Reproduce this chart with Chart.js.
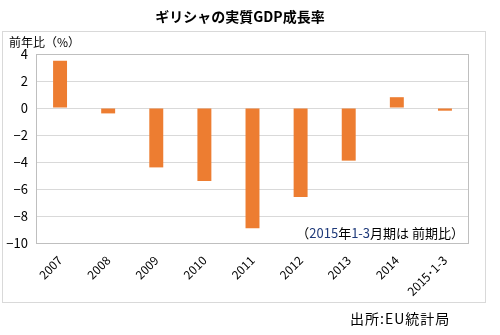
<!DOCTYPE html>
<html>
<head>
<meta charset="utf-8">
<script src="https://cdn.jsdelivr.net/npm/chart.js@4/dist/chart.umd.min.js"></script>
<style>
  html, body { margin: 0; padding: 0; background: #fff; }
  #chart { display: block; }
</style>
</head>
<body>
<canvas id="chart" width="500" height="335"></canvas>
<script>
// data
var years = ['2007', '2008', '2009', '2010', '2011', '2012', '2013', '2014', '2015･1-3'];
var growth = [3.5, -0.4, -4.4, -5.4, -8.9, -6.6, -3.9, 0.8, -0.2];
var yTicks = [4, 2, 0, -2, -4, -6, -8, -10];

var jpFont = '"Noto Sans CJK JP", "Noto Sans", sans-serif';

//draws title, frame, unit, note and source
var decorations = {
    id: 'decorations',
    beforeDraw: function (chart) {
        var ctx = chart.ctx;
        ctx.save();
        ctx.fillStyle = '#fff';
        ctx.fillRect(0, 0, chart.width, chart.height);
        ctx.strokeStyle = '#d9d9d9';
        ctx.lineWidth = 1;
        ctx.strokeRect(2.5, 31.5, 483, 271);
        ctx.restore();
    },
    afterDraw: function (chart) {
        var ctx = chart.ctx;
        var a = chart.chartArea;
        ctx.save();
        ctx.strokeStyle = '#bfbfbf';
        ctx.lineWidth = 1;
        ctx.strokeRect(Math.round(a.left) + 0.5, Math.round(a.top) + 0.5,
            Math.round(a.right - a.left) - 1, Math.round(a.bottom - a.top));

        ctx.fillStyle = '#000';
        ctx.textBaseline = 'middle';
        ctx.font = 'bold 14px ' + jpFont;
        ctx.textAlign = 'center';
        ctx.fillText('ギリシャの実質GDP成長率', 240, 17);

        ctx.font = '12px ' + jpFont;
        ctx.textAlign = 'left';
        ctx.fillText('前年比（%）', 9, 42);

        //note, digits are dark blue in the original
        var parts = [['（', '#000'], ['2015', '#1f3a7a'], ['年', '#000'], ['1-3', '#1f3a7a'], ['月期は 前期比）', '#000']];
        ctx.font = '13px ' + jpFont;
        var total = 0;
        parts.forEach(function (p) { total += ctx.measureText(p[0]).width; });
        var x = 464 - total;
        parts.forEach(function (p) {
            ctx.fillStyle = p[1];
            ctx.fillText(p[0], x, 233);
            x += ctx.measureText(p[0]).width;
        });

        ctx.fillStyle = '#000';
        ctx.font = '14px ' + jpFont;
        ctx.letterSpacing = '1px';
        ctx.fillText('出所:EU統計局', 350, 319);
        ctx.restore();
    }
};

new Chart(document.getElementById('chart'), {
    type: 'bar',
    data: {
        labels: years,
        datasets: [{
            data: growth,
            backgroundColor: '#ed7d31',
            borderWidth: 0,
            barPercentage: 0.58,
            categoryPercentage: 0.5
        }]
    },
    options: {
        responsive: false,
        animation: false,
        layout: { padding: { top: 54, left: 0, right: 31, bottom: 0 } },
        plugins: {
            legend: { display: false },
            tooltip: { enabled: false }
        },
        scales: {
            x: {
                grid: { display: false },
                border: { display: false },
                ticks: {
                    color: '#000',
                    font: { family: jpFont, size: 12 },
                    minRotation: 45,
                    maxRotation: 45,
                    padding: 2
                },
                afterFit: function (scale) { scale.height = 92; }
            },
            y: {
                min: -10,
                max: 4,
                afterBuildTicks: function (scale) {
                    scale.ticks = yTicks.map(function (v) { return { value: v }; });
                },
                grid: { color: '#d9d9d9', drawTicks: false },
                border: { display: false },
                ticks: {
                    color: '#000',
                    font: { family: jpFont, size: 13 },
                    padding: 8,
                    callback: function (v) { return v < 0 ? '−' + Math.abs(v) : String(v); }
                },
                afterFit: function (scale) { scale.width = 36; }
            }
        }
    },
    plugins: [decorations]
});
</script>
</body>
</html>
